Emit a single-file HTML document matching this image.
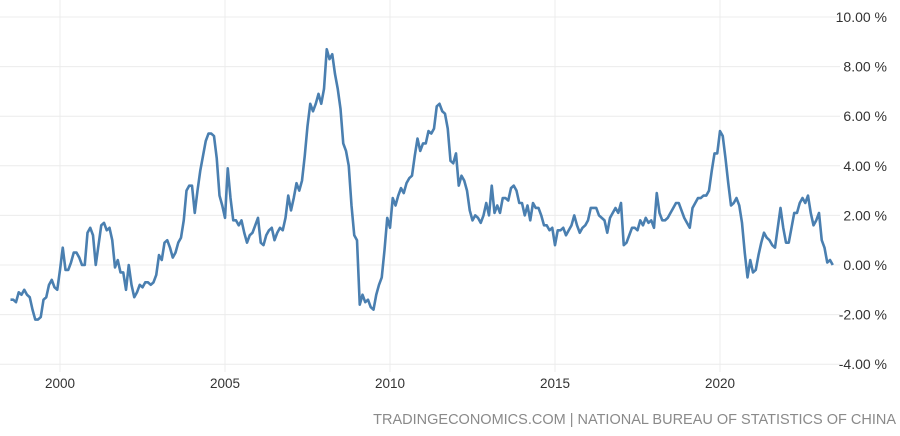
<!DOCTYPE html>
<html><head><meta charset="utf-8">
<style>
body{margin:0;background:#fff;width:900px;height:431px;overflow:hidden;font-family:"Liberation Sans",sans-serif;}
svg text{font-family:"Liberation Sans",sans-serif;}
</style></head>
<body>
<svg id="chart" width="900" height="431" xmlns="http://www.w3.org/2000/svg">
<g id="grid"></g>
<g id="yaxis"></g>
<g id="xaxis"></g>
<path id="line" fill="none" stroke="#4a7fb0" stroke-width="2.6" stroke-linejoin="round"></path>
<text x="896" y="424" text-anchor="end" font-size="14.5" fill="#8a8a8a">TRADINGECONOMICS.COM | NATIONAL BUREAU OF STATISTICS OF CHINA</text>
</svg>
<script>
const startYear = 1998.5;
const values = [
-1.4,-1.4,-1.5,-1.1,-1.2,-1.0,
-1.2,-1.3,-1.8,-2.2,-2.2,-2.1,-1.4,-1.3,-0.8,-0.6,-0.9,-1.0,
-0.2,0.7,-0.2,-0.2,0.1,0.5,0.5,0.3,0.0,0.0,1.3,1.5,
1.2,0.0,0.8,1.6,1.7,1.4,1.5,1.0,-0.1,0.2,-0.3,-0.3,
-1.0,0.0,-0.8,-1.3,-1.1,-0.8,-0.9,-0.7,-0.7,-0.8,-0.7,-0.4,
0.4,0.2,0.9,1.0,0.7,0.3,0.5,0.9,1.1,1.8,3.0,3.2,
3.2,2.1,3.0,3.8,4.4,5.0,5.3,5.3,5.2,4.3,2.8,2.4,
1.9,3.9,2.7,1.8,1.8,1.6,1.8,1.3,0.9,1.2,1.3,1.6,
1.9,0.9,0.8,1.2,1.4,1.5,1.0,1.3,1.5,1.4,1.9,2.8,
2.2,2.7,3.3,3.0,3.4,4.4,5.6,6.5,6.2,6.5,6.9,6.5,
7.1,8.7,8.3,8.5,7.7,7.1,6.3,4.9,4.6,4.0,2.4,1.2,
1.0,-1.6,-1.2,-1.5,-1.4,-1.7,-1.8,-1.2,-0.8,-0.5,0.6,1.9,
1.5,2.7,2.4,2.8,3.1,2.9,3.3,3.5,3.6,4.4,5.1,4.6,
4.9,4.9,5.4,5.3,5.5,6.4,6.5,6.2,6.1,5.5,4.2,4.1,
4.5,3.2,3.6,3.4,3.0,2.2,1.8,2.0,1.9,1.7,2.0,2.5,
2.0,3.2,2.1,2.4,2.1,2.7,2.7,2.6,3.1,3.2,3.0,2.5,
2.5,2.0,2.4,1.8,2.5,2.3,2.3,2.0,1.6,1.6,1.4,1.5,
0.8,1.4,1.4,1.5,1.2,1.4,1.6,2.0,1.6,1.3,1.5,1.6,
1.8,2.3,2.3,2.3,2.0,1.9,1.8,1.3,1.9,2.1,2.3,2.1,
2.5,0.8,0.9,1.2,1.5,1.5,1.4,1.8,1.6,1.9,1.7,1.8,
1.5,2.9,2.1,1.8,1.8,1.9,2.1,2.3,2.5,2.5,2.2,1.9,
1.7,1.5,2.3,2.5,2.7,2.7,2.8,2.8,3.0,3.8,4.5,4.5,
5.4,5.2,4.3,3.3,2.4,2.5,2.7,2.4,1.7,0.5,-0.5,0.2,
-0.3,-0.2,0.4,0.9,1.3,1.1,1.0,0.8,0.7,1.5,2.3,1.5,
0.9,0.9,1.5,2.1,2.1,2.5,2.7,2.5,2.8,2.1,1.6,1.8,
2.1,1.0,0.7,0.1,0.2,0.0
];
const yTicks = [10,8,6,4,2,0,-2,-4];
const xTicks = [2000,2005,2010,2015,2020];

const NS="http://www.w3.org/2000/svg";
function xScale(t){return 60+(t-2000)*33;}
function yScale(v){return 265-v*24.8;}
const grid=document.getElementById('grid');
const yax=document.getElementById('yaxis');
const xax=document.getElementById('xaxis');
yTicks.forEach(v=>{
  const l=document.createElementNS(NS,'line');
  
  
  l.setAttribute('x1',0);l.setAttribute('x2',840);
  l.setAttribute('y1',yScale(v));l.setAttribute('y2',yScale(v));
  l.setAttribute('stroke','#ececec');l.setAttribute('stroke-width','1');
  grid.appendChild(l);
  const t=document.createElementNS(NS,'text');
  
  
  t.setAttribute('x',887);t.setAttribute('y',yScale(v)+5);
  t.setAttribute('text-anchor','end');t.setAttribute('font-size','14');t.setAttribute('fill','#333');
  t.textContent=v.toFixed(2)+' %';
  yax.appendChild(t);
});
xTicks.forEach(y=>{
  const l=document.createElementNS(NS,'line');
  
  
  l.setAttribute('x1',xScale(y));l.setAttribute('x2',xScale(y));
  l.setAttribute('y1',0);l.setAttribute('y2',372);
  l.setAttribute('stroke','#ececec');l.setAttribute('stroke-width','1');
  grid.appendChild(l);
  const t=document.createElementNS(NS,'text');
  
  
  t.setAttribute('x',xScale(y));t.setAttribute('y',388);
  t.setAttribute('text-anchor','middle');t.setAttribute('font-size','13.5');t.setAttribute('fill','#333');
  t.textContent=y;
  xax.appendChild(t);
});
let d='';
values.forEach((v,i)=>{
  d+=(i?'L':'M')+xScale(startYear+i/12).toFixed(2)+','+yScale(v).toFixed(2);
});
document.getElementById('line').setAttribute('d',d);
</script>
</body></html>
